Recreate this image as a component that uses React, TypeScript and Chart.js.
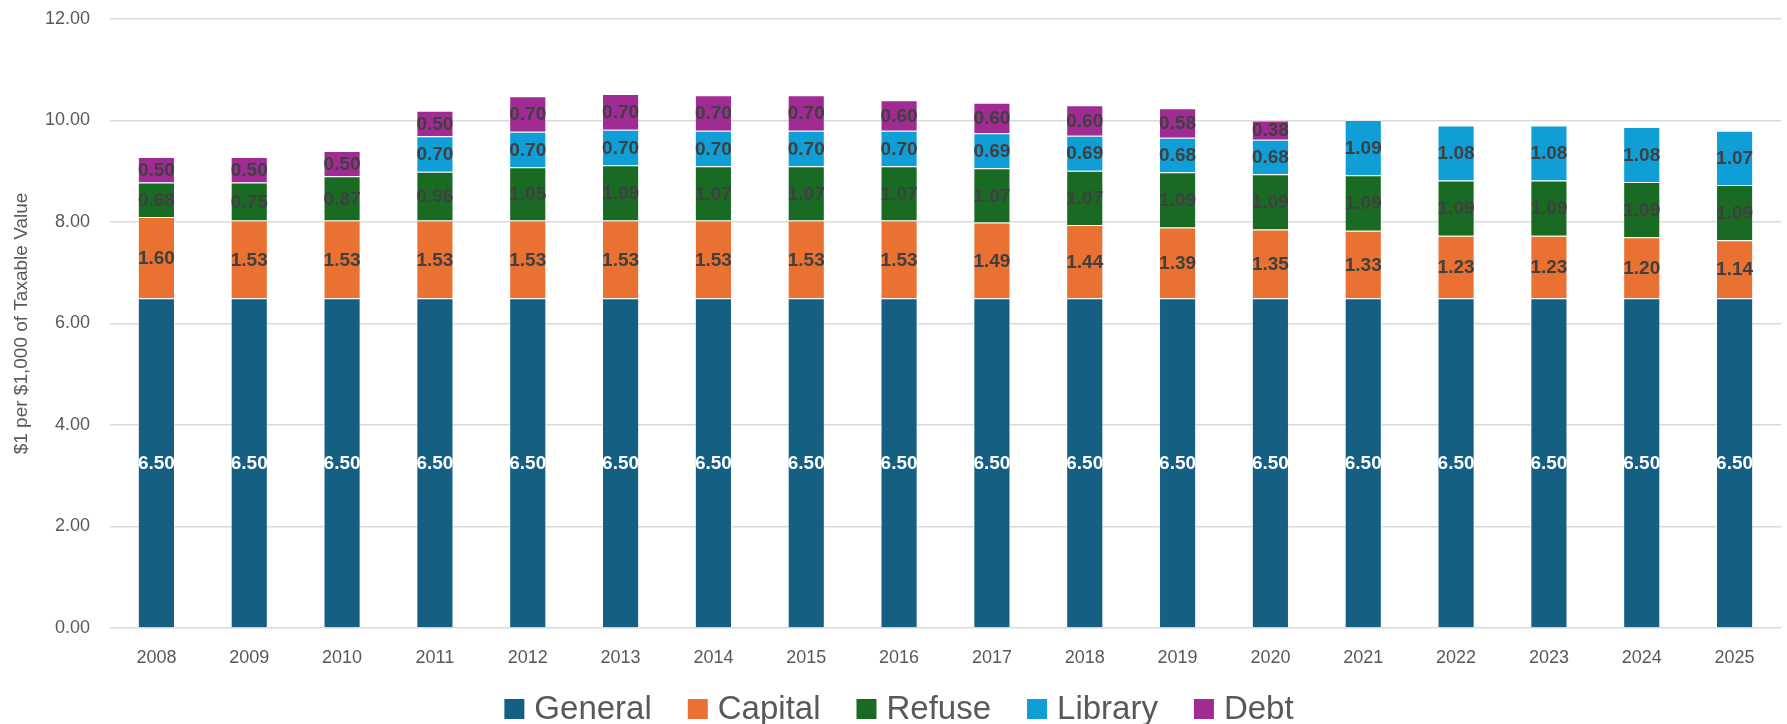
import React, { useEffect, useRef } from "react";
import { Chart, registerables } from "chart.js";

Chart.register(...registerables);

const years = ["2008", "2009", "2010", "2011", "2012", "2013", "2014", "2015", "2016", "2017", "2018", "2019", "2020", "2021", "2022", "2023", "2024", "2025"];
const general = [6.5, 6.5, 6.5, 6.5, 6.5, 6.5, 6.5, 6.5, 6.5, 6.5, 6.5, 6.5, 6.5, 6.5, 6.5, 6.5, 6.5, 6.5];
const capital = [1.6, 1.53, 1.53, 1.53, 1.53, 1.53, 1.53, 1.53, 1.53, 1.49, 1.44, 1.39, 1.35, 1.33, 1.23, 1.23, 1.2, 1.14];
const refuse = [0.68, 0.75, 0.87, 0.96, 1.05, 1.09, 1.07, 1.07, 1.07, 1.07, 1.07, 1.09, 1.09, 1.09, 1.09, 1.09, 1.09, 1.09];
const library = [null, null, null, 0.7, 0.7, 0.7, 0.7, 0.7, 0.7, 0.69, 0.69, 0.68, 0.68, 1.09, 1.08, 1.08, 1.08, 1.07];
const debt = [0.5, 0.5, 0.5, 0.5, 0.7, 0.7, 0.7, 0.7, 0.6, 0.6, 0.6, 0.58, 0.38, null, null, null, null, null];

const seriesNames = ["General", "Capital", "Refuse", "Library", "Debt"];
const seriesValues = [general, capital, refuse, library, debt];
const seriesColors = ["#156082", "#E97132", "#196B24", "#0F9ED5", "#A02B93"];
const labelColors = ["#FFFFFF", "#404040", "#404040", "#404040", "#404040"];

const yMin = 0;
const yMax = 12;
const yStep = 2;
const yTitle = "$1 per $1,000 of Taxable Value";

const FONT = "'Liberation Sans', Arial, sans-serif";
const TEXT_GRAY = "#595959";

const valueLabels = {
  id: "valueLabels",
  afterDatasetsDraw(chart: any) {
    const ctx = chart.ctx;
    ctx.save();
    ctx.font = `bold 19px ${FONT}`;
    ctx.textAlign = "center";
    ctx.textBaseline = "middle";
    chart.data.datasets.forEach((ds: any, di: number) => {
      const meta = chart.getDatasetMeta(di);
      meta.data.forEach((el: any, i: number) => {
        const v = ds.data[i];
        if (v == null) return;
        const { x, y, base } = el.getProps(["x", "y", "base"], true);
        ctx.fillStyle = labelColors[di];
        ctx.fillText(Number(v).toFixed(2), x, (y + base) / 2 + 1);
      });
    });
    ctx.restore();
  },
};

const bottomLegend = {
  id: "bottomLegend",
  afterDraw(chart: any) {
    const ctx = chart.ctx;
    ctx.save();
    ctx.font = `33px ${FONT}`;
    ctx.textBaseline = "middle";
    ctx.textAlign = "left";
    const box = 20;
    const gapText = 10;
    const gapItem = 36;
    const items = chart.data.datasets.map((ds: any) => ({
      text: ds.label,
      color: ds.backgroundColor,
      w: ctx.measureText(ds.label).width,
    }));
    const total = items.reduce((s: number, it: any) => s + box + gapText + it.w, 0) + gapItem * (items.length - 1);
    const cy = 709;
    let x = 899 - total / 2;
    items.forEach((it: any) => {
      ctx.fillStyle = it.color;
      ctx.fillRect(x, cy - box / 2, box, box);
      x += box + gapText;
      ctx.fillStyle = TEXT_GRAY;
      ctx.fillText(it.text, x, cy + 1);
      x += it.w + gapItem;
    });
    ctx.restore();
  },
};

export default function App() {
  const ref = useRef<HTMLCanvasElement | null>(null);

  useEffect(() => {
    if (!ref.current) return;
    const chart = new Chart(ref.current, {
      type: "bar",
      data: {
        labels: years,
        datasets: seriesNames.map((name, i) => ({
          label: name,
          data: seriesValues[i],
          backgroundColor: seriesColors[i],
          borderColor: "rgba(255,255,255,0.45)",
          borderWidth: 1,
          barPercentage: 0.4,
          categoryPercentage: 1,
        })),
      },
      options: {
        responsive: false,
        animation: false,
        layout: { padding: { left: 0, right: 6, top: 19, bottom: 58 } },
        plugins: {
          legend: { display: false },
          tooltip: { enabled: false },
        },
        scales: {
          x: {
            stacked: true,
            afterFit: (scale: any) => {
              scale.height = 38;
            },
            grid: { display: false, drawTicks: false },
            border: { display: false },
            ticks: { color: TEXT_GRAY, font: { family: FONT, size: 18 }, padding: 19 },
          },
          y: {
            stacked: true,
            min: yMin,
            max: yMax,
            afterFit: (scale: any) => {
              scale.width = 110;
            },
            grid: {
              color: "#d9d9d9",
              lineWidth: 1.5,
              drawTicks: true,
              tickLength: 20,
              tickColor: "rgba(0,0,0,0)",
            },
            border: { display: false },
            ticks: {
              stepSize: yStep,
              color: TEXT_GRAY,
              font: { family: FONT, size: 18 },
              padding: 0,
              callback: (v: any) => Number(v).toFixed(2),
            },
            title: {
              display: true,
              text: yTitle,
              color: TEXT_GRAY,
              font: { family: FONT, size: 19 },
              padding: { top: 10, bottom: 0 },
            },
          },
        },
      },
      plugins: [valueLabels, bottomLegend],
    });
    return () => chart.destroy();
  }, []);

  return (
    <canvas
      ref={ref}
      width={1787}
      height={724}
      style={{ position: "absolute", left: 0, top: 0, display: "block", width: 1787, height: 724 }}
    />
  );
}
